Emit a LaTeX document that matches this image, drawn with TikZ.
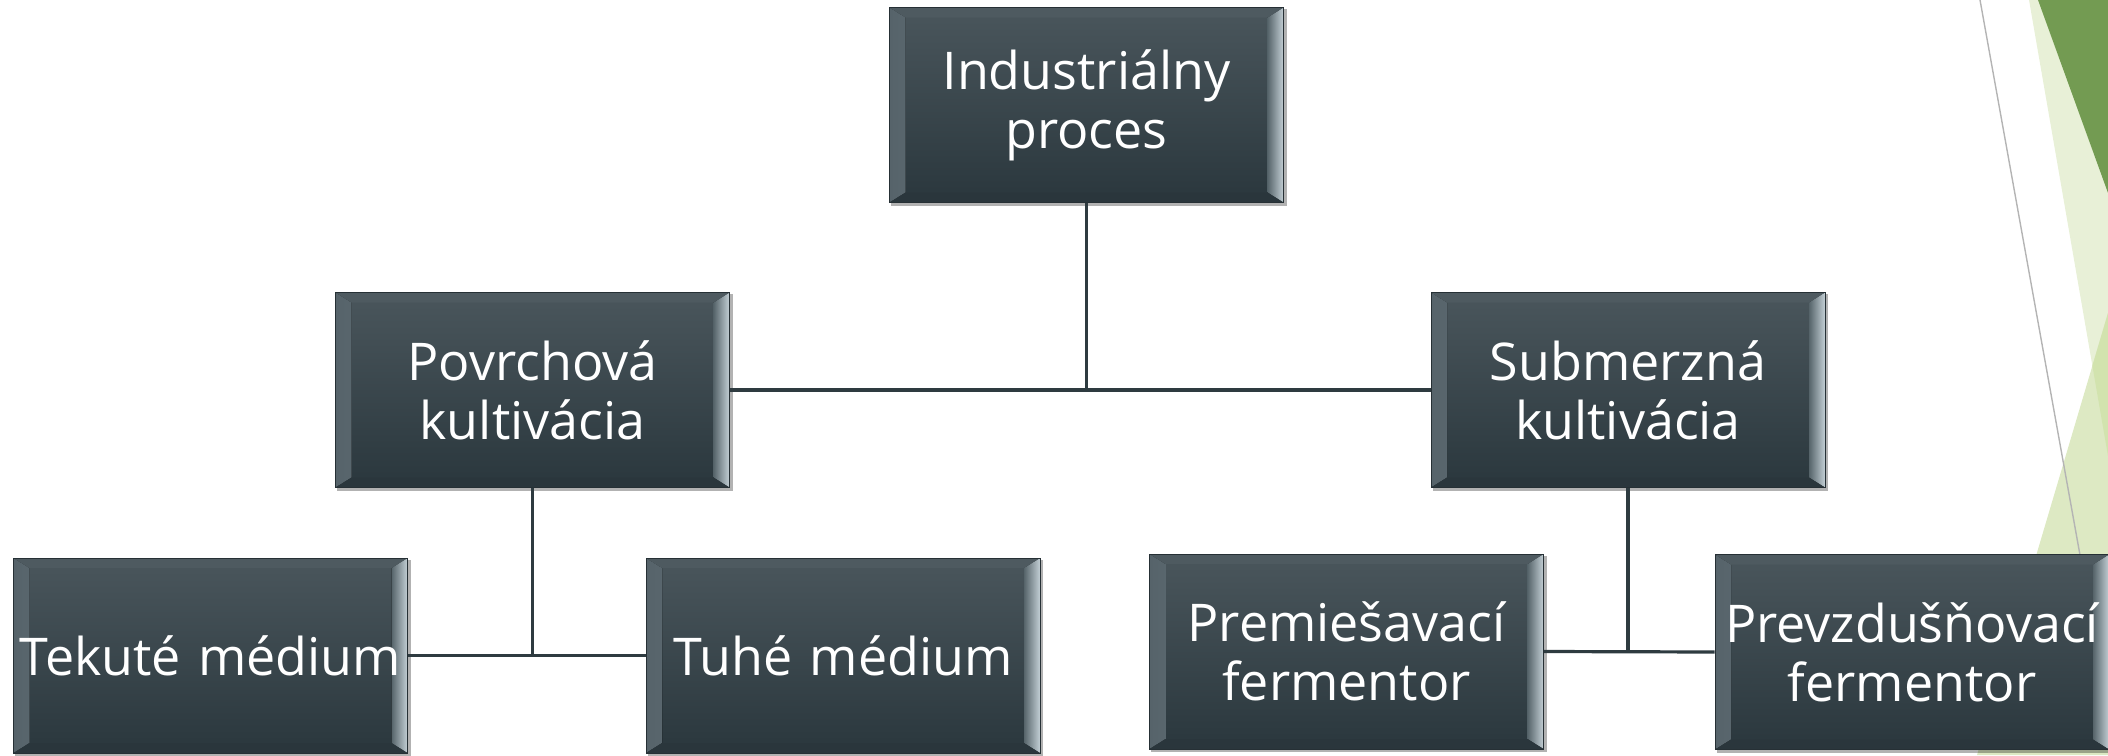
\documentclass[tikz,border=0pt]{standalone}
\usepackage{fontspec}
\setmainfont{Open Sans}
\usetikzlibrary{calc}
\definecolor{boxtop}{HTML}{4A565C}
\definecolor{boxbot}{HTML}{2A373D}
\definecolor{boxedge}{HTML}{263035}
\definecolor{linec}{HTML}{2E3B40}
\definecolor{dkgreen}{HTML}{739B52}
\definecolor{palegreen}{HTML}{E8F0D7}
\definecolor{ltgreen}{HTML}{DDE9C3}
\definecolor{ovgreen}{HTML}{D2E3AE}
\definecolor{bevLa}{HTML}{56636A}
\definecolor{bevLb}{HTML}{98A9B1}
\definecolor{bevRa}{HTML}{56646A}
\definecolor{bevRb}{HTML}{C3CFD5}
\definecolor{bevT}{HTML}{4E5A60}
\definecolor{bevB}{HTML}{2A363C}
\definecolor{decoline}{HTML}{B4B4B4}
\pgfdeclarelayer{deco}
\pgfdeclarelayer{shade}
\pgfsetlayers{deco,shade,main}
\tikzset{
  tbox/.style={rectangle, minimum width=197pt, minimum height=97.5pt, inner sep=0pt,
    text width=196pt, align=center, text=white,
    font=\fontsize{26}{29.5}\selectfont,
    top color=boxtop, bottom color=boxbot, draw=boxedge, line width=0.4pt,
    path picture={
      \fill[left color=bevLa, right color=bevLb]
        (path picture bounding box.north west)
        -- ([shift={(8pt,-5pt)}]path picture bounding box.north west)
        -- ([shift={(8pt,5pt)}]path picture bounding box.south west)
        -- (path picture bounding box.south west) -- cycle;
      \fill[left color=bevRa, right color=bevRb]
        (path picture bounding box.north east)
        -- ([shift={(-8pt,-5pt)}]path picture bounding box.north east)
        -- ([shift={(-8pt,5pt)}]path picture bounding box.south east)
        -- (path picture bounding box.south east) -- cycle;
      \fill[bevT]
        (path picture bounding box.north west)
        -- (path picture bounding box.north east)
        -- ([shift={(-8pt,-5pt)}]path picture bounding box.north east)
        -- ([shift={(8pt,-5pt)}]path picture bounding box.north west) -- cycle;
      \fill[bevB]
        (path picture bounding box.south west)
        -- (path picture bounding box.south east)
        -- ([shift={(-8pt,5pt)}]path picture bounding box.south east)
        -- ([shift={(8pt,5pt)}]path picture bounding box.south west) -- cycle;
    }},
  conn/.style={draw=linec, line width=1.6pt},
  shad/.style={fill=black, opacity=0.3}
}
\begin{document}
\begin{tikzpicture}[x=0.5pt, y=-0.5pt]
\useasboundingbox (0,0) rectangle (2108,755);
\clip (0,0) rectangle (2108,755);
% decorations
\begin{pgfonlayer}{deco}
  \fill[palegreen] (2029,0) -- (2108,0) -- (2108,456) -- cycle;
  \fill[ltgreen] (2108,313) -- (1977,755) -- (2108,755) -- cycle;
  \begin{scope}
    \clip (2029,0) -- (2108,0) -- (2108,456) -- cycle;
    \fill[ovgreen] (2108,313) -- (1977,755) -- (2108,755) -- cycle;
  \end{scope}
  \fill[dkgreen] (2038,0) -- (2108,0) -- (2108,193) -- cycle;
  \draw[decoline, line width=0.7pt] (1980,0) -- (2116,755);
\end{pgfonlayer}
% boxes
\node[tbox] (ind) at (1086.5,105) {Industriálny\\proces};
\node[tbox] (pov) at (532.5,390) {Povrchová\\kultivácia};
\node[tbox] (sub) at (1628,390) {Submerzná\\kultivácia};
\node[tbox] (tek) at (210.5,655.5) {Tekuté médium};
\node[tbox] (tuh) at (843,655.5) {Tuhé médium};
\node[tbox] (pre) at (1346.5,651.5) {Premiešavací\\fermentor};
\node[tbox] (prv) at (1912,652) {Prevzdušňovací\\fermentor};
% shadows
\begin{pgfonlayer}{shade}
  \foreach \n in {ind,pov,sub,tek,tuh,pre,prv}{
    \fill[shad] ([shift={(1pt,-1.5pt)}]\n.south west) rectangle ([shift={(1.5pt,-1pt)}]\n.north east);
  }
\end{pgfonlayer}
% connectors
\begin{pgfonlayer}{shade}
  \draw[conn] (pov.east) -- (sub.west);
  \draw[conn] (ind.south) -- (ind.south |- pov.east);
  \draw[conn] (tek.east) -- (tuh.west);
  \draw[conn] (pov.south) -- (pov.south |- tek.east);
  \draw[conn] (pre.east) -- (prv.west);
  \draw[conn] (sub.south) -- (sub.south |- pre.east);
\end{pgfonlayer}
\end{tikzpicture}
\end{document}
